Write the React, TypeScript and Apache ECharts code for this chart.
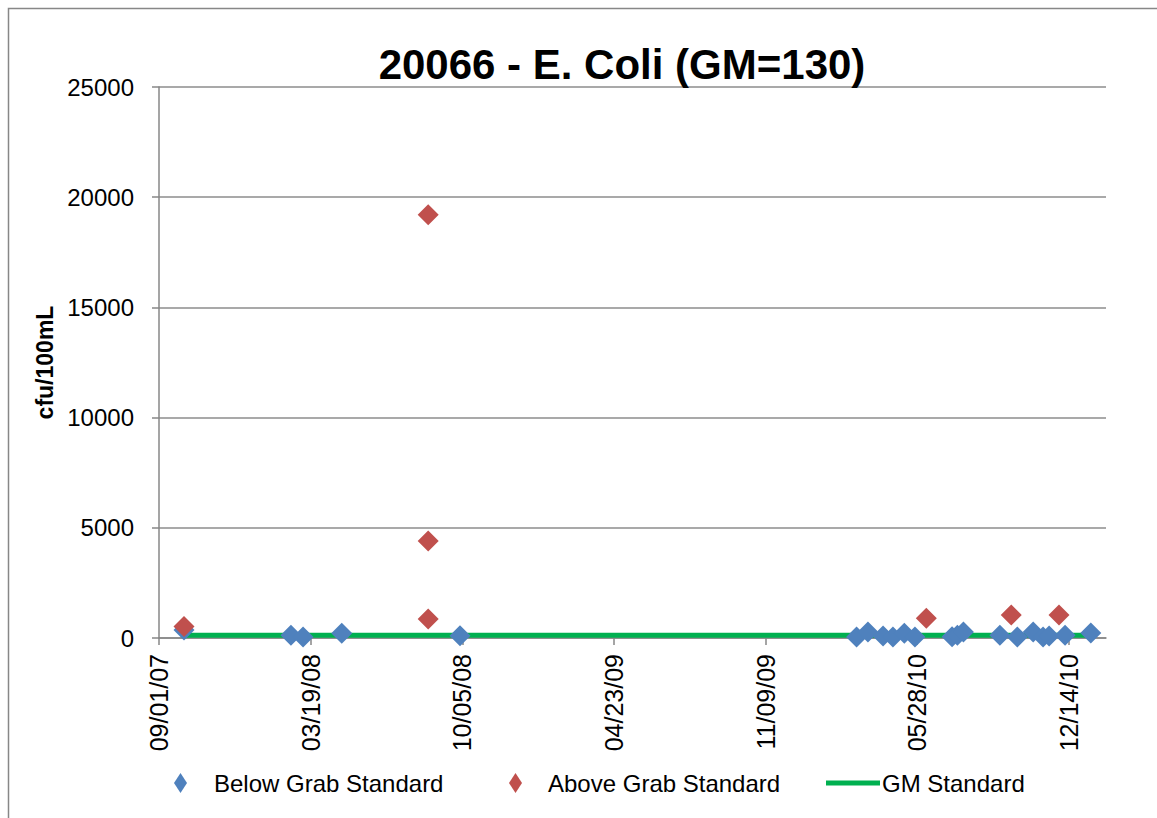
import React, { useEffect, useRef } from "react";
import * as echarts from "echarts";

const xMinDate = "09/01/07";
const xMaxDate = "02/01/11";
const xTickDays = 200;

const belowDates = [
  "10/04/07", "02/22/08", "03/09/08", "04/29/08", "10/02/08",
  "03/09/10", "03/24/10", "04/13/10", "04/26/10", "05/11/10", "05/25/10",
  "07/13/10", "07/20/10", "07/28/10", "09/14/10", "10/07/10", "10/28/10",
  "11/10/10", "11/18/10", "12/09/10", "01/12/11",
];
const belowValues = [
  360, 130, 50, 220, 100,
  50, 270, 90, 50, 220, 50,
  60, 130, 270, 130, 40, 270,
  40, 90, 130, 230,
];

const aboveDates = ["10/04/07", "08/21/08", "08/21/08", "08/21/08", "06/09/10", "09/29/10", "12/01/10"];
const aboveValues = [520, 19200, 4400, 860, 900, 1040, 1040];

const gmDates = ["10/04/07", "01/12/11"];
const gmValues = [130, 130];

const yMin = 0;
const yMax = 25000;
const yInterval = 5000;

const DAY = 86400000;
const parseDate = (s: string) => {
  const [m, d, y] = s.split("/").map(Number);
  return Date.UTC(2000 + y, m - 1, d);
};
const t0 = parseDate(xMinDate);
const toDays = (s: string) => Math.round((parseDate(s) - t0) / DAY);
const pad = (n: number) => (n < 10 ? "0" + n : "" + n);
const fmtDays = (v: number) => {
  const dt = new Date(t0 + v * DAY);
  return `${pad(dt.getUTCMonth() + 1)}/${pad(dt.getUTCDate())}/${pad(dt.getUTCFullYear() % 100)}`;
};

const FONT = "'Liberation Sans', Arial, sans-serif";

export default function App() {
  const ref = useRef<HTMLDivElement>(null);
  useEffect(() => {
    if (!ref.current) return;
    const chart = echarts.init(ref.current, null, { renderer: "svg" });
    const zip = (ds: string[], vs: number[]) => ds.map((d, i) => [toDays(d), vs[i]]);
    chart.setOption({
      animation: false,
      backgroundColor: "#ffffff",
      textStyle: { fontFamily: FONT },
      graphic: [
        {
          type: "rect",
          shape: { x: 8.5, y: 8.5, width: 1170, height: 830 },
          style: { fill: "none", stroke: "#878787", lineWidth: 1.5 },
          silent: true,
        },
      ],
      title: {
        text: "20066 - E. Coli (GM=130)",
        left: 617,
        textAlign: "center",
        top: 38,
        textStyle: { fontFamily: FONT, fontSize: 42, fontWeight: "bold", color: "#000" },
      },
      grid: { left: 159, top: 87, right: 51, bottom: 180 },
      legend: [
        {
          data: ["Below Grab Standard"],
          left: 174,
          top: 771,
          padding: 0,
          icon: "diamond",
          itemWidth: 13,
          itemHeight: 20,
          textStyle: { fontFamily: FONT, fontSize: 24, color: "#000", padding: [0, 0, 0, 22] },
        },
        {
          data: ["Above Grab Standard"],
          left: 509,
          top: 771,
          padding: 0,
          icon: "diamond",
          itemWidth: 13,
          itemHeight: 20,
          textStyle: { fontFamily: FONT, fontSize: 24, color: "#000", padding: [0, 0, 0, 21] },
        },
        {
          data: ["GM Standard"],
          left: 826,
          top: 771,
          padding: 0,
          icon: "rect",
          itemWidth: 54,
          itemHeight: 5,
          textStyle: { fontFamily: FONT, fontSize: 24, color: "#000", padding: [0, 0, 0, -3] },
        },
      ],
      xAxis: {
        type: "value",
        min: toDays(xMinDate),
        max: toDays(xMaxDate),
        interval: xTickDays,
        splitLine: { show: false },
        axisLine: { show: true, onZero: false, lineStyle: { color: "#878787", width: 1.5 } },
        axisTick: { show: true, length: 7, lineStyle: { color: "#878787", width: 1.5 } },
        axisLabel: {
          rotate: 90,
          margin: 16,
          fontSize: 25,
          color: "#000",
          fontFamily: FONT,
          showMaxLabel: false,
          formatter: (v: number) => fmtDays(v),
        },
      },
      yAxis: {
        type: "value",
        min: yMin,
        max: yMax,
        interval: yInterval,
        name: "cfu/100mL",
        nameLocation: "middle",
        nameRotate: 90,
        nameGap: 102,
        nameTextStyle: { fontFamily: FONT, fontSize: 23, fontWeight: "bold", color: "#000" },
        axisLine: { show: true, lineStyle: { color: "#878787", width: 1.5 } },
        axisTick: { show: true, length: 7, lineStyle: { color: "#878787", width: 1.5 } },
        axisLabel: {
          margin: 25,
          fontSize: 24,
          color: "#000",
          fontFamily: FONT,
          formatter: (v: number) => String(v),
        },
        splitLine: { show: true, lineStyle: { color: "#8c8c8c", width: 1.5 } },
      },
      series: [
        {
          name: "GM Standard",
          type: "line",
          data: zip(gmDates, gmValues),
          symbol: "none",
          lineStyle: { color: "#00B050", width: 5 },
          itemStyle: { color: "#00B050" },
          z: 1,
        },
        {
          name: "Below Grab Standard",
          type: "scatter",
          data: zip(belowDates, belowValues),
          symbol: "diamond",
          symbolSize: 21,
          itemStyle: { color: "#4F81BD", opacity: 1 },
          z: 2,
        },
        {
          name: "Above Grab Standard",
          type: "scatter",
          data: zip(aboveDates, aboveValues),
          symbol: "diamond",
          symbolSize: 21,
          itemStyle: { color: "#C0504D", opacity: 1 },
          z: 3,
        },
      ],
    });
    return () => chart.dispose();
  }, []);
  return (
    <div style={{ position: "fixed", left: 0, top: 0, width: 1157, height: 818, background: "#fff" }}>
      <div ref={ref} style={{ width: 1157, height: 818 }} />
    </div>
  );
}
